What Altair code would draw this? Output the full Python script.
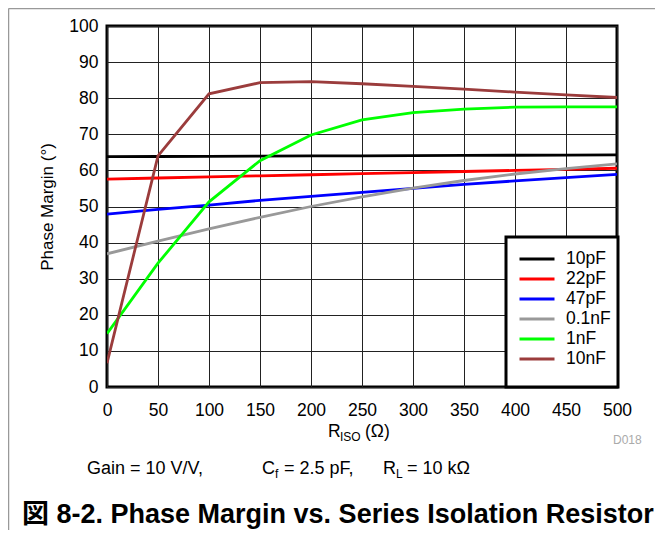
import altair as alt
import pandas as pd

# ---------------- data ----------------
r_iso = [0, 50, 100, 150, 200, 250, 300, 350, 400, 450, 500]
pm_10pF = [63.8, 63.85, 63.9, 63.95, 64.0, 64.05, 64.1, 64.15, 64.2, 64.25, 64.3]
pm_22pF = [57.6, 57.9, 58.2, 58.5, 58.8, 59.1, 59.4, 59.7, 60.0, 60.3, 60.6]
pm_47pF = [47.9, 49.2, 50.4, 51.7, 52.8, 53.9, 55.0, 56.1, 57.1, 58.0, 58.9]
pm_01nF = [36.9, 40.4, 43.8, 47.0, 50.0, 52.7, 55.1, 57.2, 59.0, 60.5, 61.8]
pm_1nF = [14.8, 34.3, 51.3, 62.7, 69.8, 74.0, 76.0, 77.0, 77.5, 77.6, 77.6]
pm_10nF = [6.6, 64.0, 81.2, 84.3, 84.6, 84.0, 83.3, 82.5, 81.7, 80.9, 80.2]

series_names = ["10pF", "22pF", "47pF", "0.1nF", "1nF", "10nF"]
series_values = [pm_10pF, pm_22pF, pm_47pF, pm_01nF, pm_1nF, pm_10nF]
series_colors = ["#000000", "#ff0000", "#0000ff", "#999999", "#00ff00", "#9b3c3c"]

x_ticks = [0, 50, 100, 150, 200, 250, 300, 350, 400, 450, 500]
y_ticks = [0, 10, 20, 30, 40, 50, 60, 70, 80, 90, 100]

rows = []
for si, (name, vals) in enumerate(zip(series_names, series_values)):
    for x, v in zip(r_iso, vals):
        rows.append({"R": x, "PM": v, "C": name, "k": si})
df = pd.DataFrame(rows)

FONT = "Liberation Sans, Arial, Helvetica, Noto Sans CJK JP, sans-serif"
W, H = 510, 361

one = pd.DataFrame({"d": [0]})

def txt(s, x, y, size=17, bold=False, color="black", align="left"):
    return alt.Chart(pd.DataFrame({"t": [s]})).mark_text(
        font=FONT, fontSize=size, fontWeight="bold" if bold else "normal",
        color=color, align=align, baseline="alphabetic"
    ).encode(text="t:N", x=alt.value(x), y=alt.value(y))

# legend box
legend_box = alt.Chart(one).mark_rect(fill="white", stroke="black", strokeWidth=3).encode(
    x=alt.value(399), x2=alt.value(511), y=alt.value(211), y2=alt.value(361)
)

lines = alt.Chart(df).mark_line(strokeWidth=2.8, clip=True).encode(
    x=alt.X("R:Q", scale=alt.Scale(domain=[0, 500], nice=False),
            axis=alt.Axis(values=x_ticks, title=None, grid=True, tickSize=0,
                          labelPadding=14, labelFontSize=17.5, labelFont=FONT,
                          labelColor="black", domain=False, labelFlush=False)),
    y=alt.Y("PM:Q", scale=alt.Scale(domain=[0, 100], nice=False),
            axis=alt.Axis(values=y_ticks, title="Phase Margin (°)", grid=True, tickSize=0,
                          labelPadding=9, labelFontSize=17.5, labelFont=FONT,
                          labelColor="black", domain=False, titleFont=FONT,
                          titleFontSize=17, titleFontWeight="normal", titleColor="black",
                          titlePadding=12)),
    color=alt.Color("C:N", sort=series_names,
                    scale=alt.Scale(domain=series_names, range=series_colors),
                    legend=alt.Legend(orient="none", legendX=399, legendY=211, padding=12,
                                      clipHeight=20, rowPadding=0, symbolType="stroke",
                                      symbolSize=1225, symbolStrokeWidth=3,
                                      labelFontSize=17.5, labelFont=FONT, labelColor="black",
                                      labelOffset=10, title=None)),
    order=alt.Order("k:Q"),
    detail="C:N",
)

# outer frame
frame_left = alt.Chart(one).mark_rule(color="#999999", strokeWidth=1.5).encode(
    x=alt.value(-98.5), y=alt.value(-17.5), y2=alt.value(520))
frame_top = alt.Chart(one).mark_rule(color="#999999", strokeWidth=1.5).encode(
    x=alt.value(-98.5), x2=alt.value(560), y=alt.value(-17.5))

# x-axis title with subscript
xt_R = txt("R", 221, 411, size=17.5)
xt_sub = txt("ISO", 233, 415, size=12)
xt_rest = txt("(Ω)", 258, 411, size=17.5)

d018 = txt("D018", 506, 418, size=12, color="#aaaaaa")

cap1 = txt("Gain = 10 V/V,", -20, 448, size=18)
cap2a = txt("C", 155, 448, size=18)
cap2b = txt("f", 168, 452, size=12)
cap2c = txt("= 2.5 pF,", 177, 448, size=18)
cap3a = txt("R", 276, 448, size=18)
cap3b = txt("L", 289, 452, size=12)
cap3c = txt("= 10 kΩ", 300, 448, size=18)

title = txt("図 8-2. Phase Margin vs. Series Isolation Resistor", -85, 497, size=27, bold=True)

chart = alt.layer(
    frame_left, frame_top, legend_box, lines,
    xt_R, xt_sub, xt_rest, d018,
    cap1, cap2a, cap2b, cap2c, cap3a, cap3b, cap3c, title
).properties(
    width=W, height=H,
    padding={"left": 99, "top": 18, "right": 38, "bottom": 143},
    autosize=alt.AutoSizeParams(type="none"),
).configure_view(
    stroke="black", strokeWidth=3
).configure_axis(
    gridColor="#222222", gridWidth=1, gridOpacity=1
)

chart.save("out.html", embed_options={"renderer": "svg", "actions": False})
